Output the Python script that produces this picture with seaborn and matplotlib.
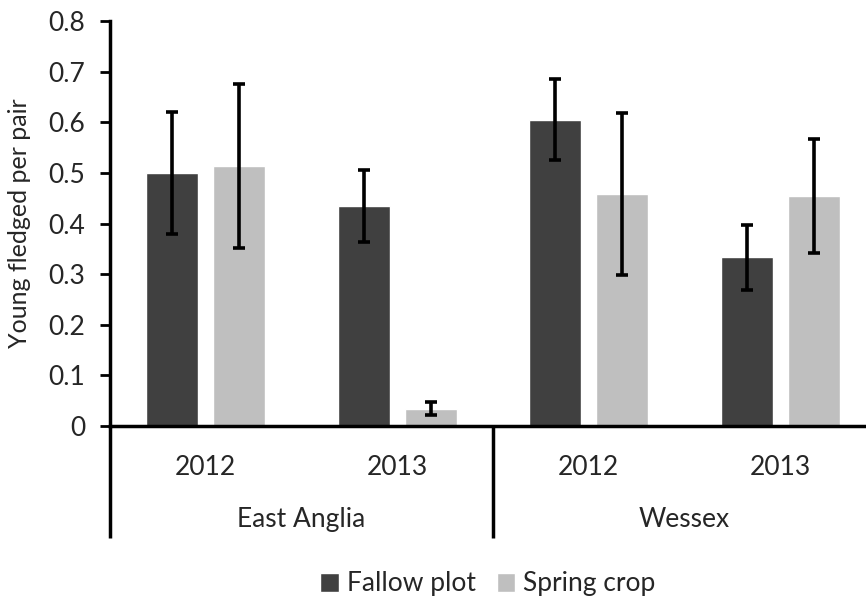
import matplotlib
matplotlib.use("Agg")
import matplotlib.pyplot as plt
import matplotlib.transforms as mtransforms
import seaborn as sns
import pandas as pd

# Breeding success per site and year, two nesting habitats
regions = ["East Anglia", "East Anglia", "Wessex", "Wessex"]
years = ["2012", "2013", "2012", "2013"]
habitats = ["Fallow plot", "Spring crop"]
fallow_mean = [0.500, 0.434, 0.605, 0.333]
fallow_err = [0.120, 0.071, 0.080, 0.065]
spring_mean = [0.513, 0.034, 0.458, 0.454]
spring_err = [0.162, 0.013, 0.160, 0.112]

group_keys = [f"{r} {y}" for r, y in zip(regions, years)]
df = pd.DataFrame({
    "group": group_keys * 2,
    "habitat": [habitats[0]] * 4 + [habitats[1]] * 4,
    "value": fallow_mean + spring_mean,
})
errors = {habitats[0]: fallow_err, habitats[1]: spring_err}

sns.set_style("white")
plt.rcParams["font.family"] = ["Lato", "DejaVu Sans"]

fig = plt.figure(figsize=(8.66, 5.99), dpi=100)
W, H = 866, 599
ax = fig.add_axes([110 / W, 1 - 426 / H, 766 / W, 405 / H])

palette = {habitats[0]: "#404040", habitats[1]: "#bfbfbf"}
sns.barplot(data=df, x="group", y="value", hue="habitat", order=group_keys,
            hue_order=habitats, palette=palette, width=0.7, gap=0.22,
            saturation=1, ax=ax, errorbar=None)

# error bars on each bar, from the stored standard errors
for cont, hab in zip(ax.containers, habitats):
    for bar, err in zip(cont, errors[hab]):
        xc = bar.get_x() + bar.get_width() / 2
        ax.errorbar(xc, bar.get_height(), yerr=err, fmt="none", ecolor="black",
                    elinewidth=2.6, capsize=4.2, capthick=2.6, zorder=5)

fs = 19
ax.set_xlim(-0.5, 3.5)
ax.set_ylim(0, 0.8)
ax.set_yticks([0, 0.1, 0.2, 0.3, 0.4, 0.5, 0.6, 0.7, 0.8])
ax.set_yticklabels(["0", "0.1", "0.2", "0.3", "0.4", "0.5", "0.6", "0.7", "0.8"])
ax.set_xticks(range(4))
ax.set_xticklabels(years)
ax.tick_params(axis="x", length=0, pad=21, labelsize=fs)
ax.tick_params(axis="y", direction="out", length=7, width=2, color="black",
               pad=11, labelsize=fs, left=True)
for s in ["top", "right"]:
    ax.spines[s].set_visible(False)
for s in ["left", "bottom"]:
    ax.spines[s].set_color("black")
    ax.spines[s].set_linewidth(2.5)

ax.set_xlabel("")
ax.set_ylabel("Young fledged per pair", fontsize=18)
ax.yaxis.set_label_coords(-0.103, 0.5)

# multi-level category axis: separators and region names
trans = mtransforms.blended_transform_factory(ax.transData, ax.transAxes)
drop = -(538 - 426) / 405
for xs in [-0.5, 1.5, 3.5]:
    ax.plot([xs, xs], [0, drop], transform=trans, color="black", lw=2.5,
            clip_on=False, solid_capstyle="butt")
for xc, name in [(0.5, "East Anglia"), (2.5, "Wessex")]:
    ax.text(xc, -(527 - 426) / 405, name, transform=trans, ha="center",
            va="baseline", fontsize=fs)

sns.move_legend(ax, "center", bbox_to_anchor=(488 / W, 1 - 584 / H),
                bbox_transform=fig.transFigure, ncol=2, frameon=False,
                title=None, fontsize=fs, handlelength=0.7, handleheight=0.7,
                handletextpad=0.3, columnspacing=0.8)

fig.savefig("out.png", dpi=100)
